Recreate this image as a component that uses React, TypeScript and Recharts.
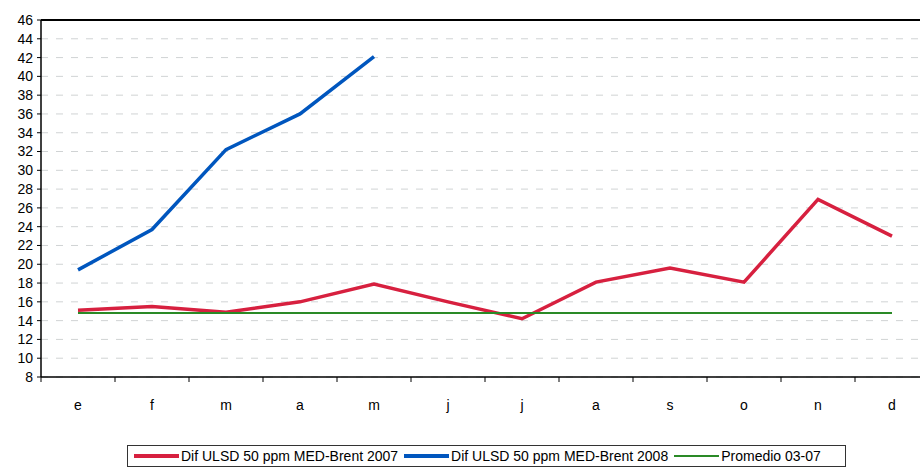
import { LineChart, Line, XAxis, YAxis, CartesianGrid, Legend, ReferenceLine } from 'recharts';

const months = ['e', 'f', 'm', 'a', 'm', 'j', 'j', 'a', 's', 'o', 'n', 'd'];
const dif2007 = [15.1, 15.5, 14.9, 16.0, 17.9, 16.0, 14.2, 18.1, 19.6, 18.1, 26.9, 23.0];
const dif2008: (number | null)[] = [19.4, 23.7, 32.2, 36.0, 42.1, null, null, null, null, null, null, null];
const promedio = [14.8, 14.8, 14.8, 14.8, 14.8, 14.8, 14.8, 14.8, 14.8, 14.8, 14.8, 14.8];
const yTicks = [8, 10, 12, 14, 16, 18, 20, 22, 24, 26, 28, 30, 32, 34, 36, 38, 40, 42, 44, 46];

const series = [
  { key: 'd2007', name: 'Dif ULSD 50 ppm MED-Brent 2007', color: '#D7203F', width: 3.5 },
  { key: 'd2008', name: 'Dif ULSD 50 ppm MED-Brent 2008', color: '#0056BE', width: 3.5 },
  { key: 'prom', name: 'Promedio 03-07', color: '#2A8A26', width: 2 },
];

const data = months.map((m, i) => ({
  month: m,
  d2007: dif2007[i],
  d2008: dif2008[i],
  prom: promedio[i],
}));

const FONT = '"Liberation Sans", Arial, sans-serif';

// tick marks sit between categories, excel style
function MonthTick({ x, y, payload }: any) {
  return (
    <g>
      <line x1={x - 37} y1={y} x2={x - 37} y2={y + 5} stroke="#000" strokeWidth={1} />
      <text x={x} y={y + 33} textAnchor="middle" fontSize={14} fontFamily={FONT} fill="#000">
        {payload.value}
      </text>
    </g>
  );
}

function LegendBox() {
  return (
    <div
      style={{
        display: 'flex',
        alignItems: 'center',
        border: '1px solid #333',
        height: 22,
        width: 719,
        boxSizing: 'border-box',
        fontFamily: FONT,
        fontSize: 14,
        color: '#000',
        whiteSpace: 'nowrap',
      }}
    >
      {series.map((s) => (
        <div key={s.key} style={{ display: 'flex', alignItems: 'center', marginLeft: 6 }}>
          <span style={{ display: 'inline-block', width: 45, height: Math.round(s.width), background: s.color, marginRight: 2 }} />
          <span>{s.name}</span>
        </div>
      ))}
    </div>
  );
}

export default function App() {
  return (
    <div style={{ position: 'fixed', left: 0, top: 0, width: 920, height: 467, overflow: 'hidden', background: '#fff' }}>
      <LineChart width={940} height={467} data={data} margin={{ top: 20, right: 11, left: 6, bottom: 0 }}>
        <CartesianGrid vertical={false} stroke="#d0d3d4" strokeDasharray="7 8" />
        <XAxis
          dataKey="month"
          height={68}
          padding={{ left: 37, right: 37 }}
          tickLine={false}
          tickSize={0}
          tickMargin={0}
          tick={<MonthTick />}
          interval={0}
          axisLine={{ stroke: '#000', strokeWidth: 1.5 }}
        />
        <YAxis
          width={35}
          domain={[8, 46]}
          ticks={yTicks}
          interval={0}
          tickSize={4}
          tickMargin={4}
          tick={{ fontSize: 14, fontFamily: FONT, fill: '#000' }}
          tickLine={{ stroke: '#000' }}
          axisLine={{ stroke: '#000', strokeWidth: 1.5 }}
        />
        <ReferenceLine y={46} stroke="#000" strokeWidth={2} />
        {series.map((s) => (
          <Line
            key={s.key}
            type="linear"
            dataKey={s.key}
            name={s.name}
            stroke={s.color}
            strokeWidth={s.width}
            dot={false}
            activeDot={false}
            isAnimationActive={false}
          />
        ))}
        <Legend verticalAlign="bottom" content={<LegendBox />} wrapperStyle={{ left: 127, width: 'auto' }} />
      </LineChart>
    </div>
  );
}
